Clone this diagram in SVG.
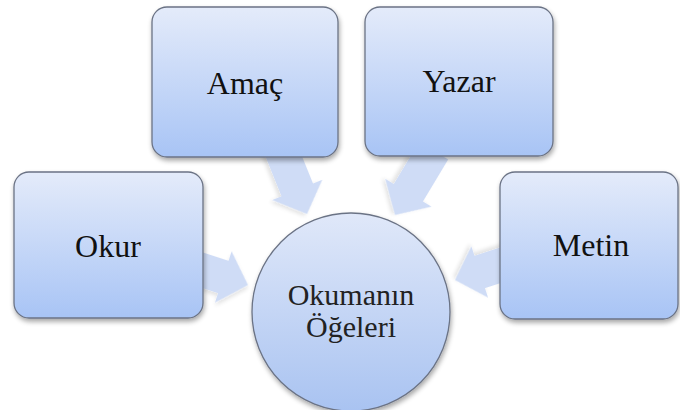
<svg xmlns="http://www.w3.org/2000/svg" width="680" height="410" viewBox="0 0 680 410">
<defs>
<linearGradient id="boxg" x1="0" y1="0" x2="0" y2="1">
<stop offset="0" stop-color="#e4ebfa"/>
<stop offset="1" stop-color="#a8c4f5"/>
</linearGradient>
<linearGradient id="circg" x1="0" y1="0" x2="0" y2="1">
<stop offset="0" stop-color="#e0e8f9"/>
<stop offset="1" stop-color="#a9c3f1"/>
</linearGradient>
<filter id="sh" x="-20%" y="-20%" width="140%" height="140%">
<feGaussianBlur in="SourceAlpha" stdDeviation="2.5"/>
<feOffset dx="1" dy="3" result="b"/>
<feComponentTransfer><feFuncA type="linear" slope="0.35"/></feComponentTransfer>
<feMerge><feMergeNode/><feMergeNode in="SourceGraphic"/></feMerge>
</filter>
<filter id="ash" x="-30%" y="-30%" width="160%" height="160%">
<feGaussianBlur in="SourceAlpha" stdDeviation="2"/>
<feOffset dx="1" dy="3"/>
<feComponentTransfer><feFuncA type="linear" slope="0.12"/></feComponentTransfer>
<feMerge><feMergeNode/><feMergeNode in="SourceGraphic"/></feMerge>
</filter>
<polygon id="arr" points="0,0 -26,-27 -26,-17 -75,-17 -75,17 -26,17 -26,27"/>
</defs>
<style>
.box{fill:url(#boxg);stroke:#6b7385;stroke-width:1.3;filter:url(#sh)}
.circ{fill:url(#circg);stroke:#6b7385;stroke-width:1.3;filter:url(#sh)}
.lbl{font-family:"Liberation Serif","Times New Roman",serif;font-size:32px;fill:#111;text-anchor:middle}
.clbl{font-family:"Liberation Serif","Times New Roman",serif;font-size:30px;fill:#222;text-anchor:middle}
.arrow{fill:#cfdcf6;filter:url(#ash)}
</style>
<g id="connectors">
<use href="#arr" class="arrow" transform="translate(307,214) rotate(68)"/>
<use href="#arr" class="arrow" transform="translate(395,215) rotate(121)"/>
<use href="#arr" class="arrow" transform="translate(248,285) rotate(18)"/>
<use href="#arr" class="arrow" transform="translate(455,280) rotate(162)"/>
</g>
<g id="amac">
<rect class="box" x="152" y="7" width="186" height="150" rx="15"/>
<text class="lbl" x="245" y="94">Amaç</text>
</g>
<g id="yazar">
<rect class="box" x="365" y="7" width="188" height="149" rx="15"/>
<text class="lbl" x="459" y="92">Yazar</text>
</g>
<g id="okur">
<rect class="box" x="14" y="172" width="189" height="146" rx="15"/>
<text class="lbl" x="108" y="257">Okur</text>
</g>
<g id="metin">
<rect class="box" x="500" y="172" width="178" height="147" rx="15"/>
<text class="lbl" x="591" y="256">Metin</text>
</g>
<g id="center">
<circle class="circ" cx="351" cy="312" r="99"/>
<text class="clbl" x="351" y="305">Okumanın</text>
<text class="clbl" x="351" y="337">Öğeleri</text>
</g>
</svg>
